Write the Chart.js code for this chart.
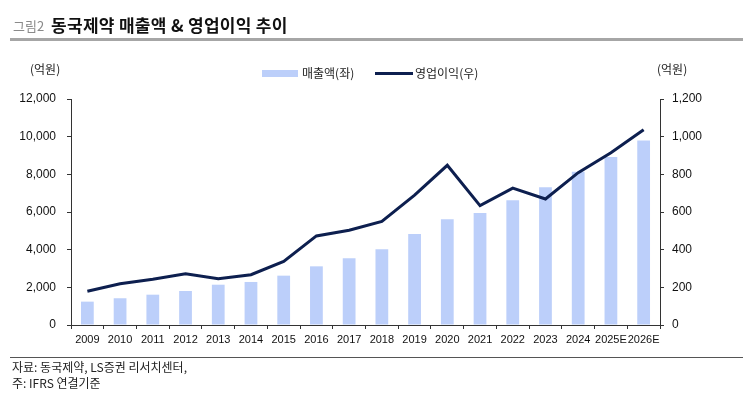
<!DOCTYPE html>
<html>
<head>
<meta charset="utf-8">
<script src="https://cdn.jsdelivr.net/npm/chart.js@4/dist/chart.umd.min.js"></script>
<style>
    body { margin: 0; background: #fff; font-family: 'Noto Sans CJK KR', sans-serif; }
    #wrap { position: relative; width: 743px; height: 399px; overflow: hidden; }
    #chart { position: absolute; left: 0; top: 0; }
    .abs { position: absolute; white-space: nowrap; line-height: 1; }
    .fig { left: 13px; top: 19px; font-size: 13px; color: #8a8a8a; }
    .title { left: 51px; top: 16px; font-size: 17px; font-weight: bold; color: #111; letter-spacing: 0.3px; }
    .rule { left: 10px; top: 38px; width: 733px; height: 3px; background: #a6a6a6; }
    .unit { font-size: 12px; color: #222; top: 63px; }
    .legend-text { font-size: 12px; color: #222; top: 67px; }
    .foot-rule { left: 10px; top: 357px; width: 733px; height: 1px; background: #555; }
    .foot { left: 12px; font-size: 12px; color: #222; }
</style>
</head>
<body>
<div id="wrap">
    <canvas id="chart" width="743" height="399"></canvas>
    <div class="abs fig">그림2</div>
    <div class="abs title">동국제약 매출액 &amp; 영업이익 추이</div>
    <div class="abs rule"></div>
    <div class="abs unit" style="left:30px">(억원)</div>
    <div class="abs unit" style="left:657px">(억원)</div>
    <div class="abs" style="left:262px; top:70px; width:36px; height:7px; background:#bccffa"></div>
    <div class="abs legend-text" style="left:302px">매출액(좌)</div>
    <div class="abs" style="left:375px; top:72px; width:38px; height:3px; background:#0d1f4f"></div>
    <div class="abs legend-text" style="left:415px">영업이익(우)</div>
    <div class="abs foot-rule"></div>
    <div class="abs foot" style="top:361px">자료: 동국제약, LS증권 리서치센터,</div>
    <div class="abs foot" style="top:377px">주: IFRS 연결기준</div>
</div>
<script>
const years = ['2009', '2010', '2011', '2012', '2013', '2014', '2015', '2016', '2017',
    '2018', '2019', '2020', '2021', '2022', '2023', '2024', '2025E', '2026E'];
const sales = [1240, 1420, 1610, 1805, 2140, 2285, 2620, 3115, 3540,
    4020, 4830, 5610, 5950, 6620, 7310, 8140, 8920, 9800];
const operatingProfit = [179, 219, 243, 272, 246, 267, 338, 473, 503,
    550, 690, 848, 634, 727, 669, 809, 915, 1037];
const leftTicks = [0, 2000, 4000, 6000, 8000, 10000, 12000];
const rightTicks = [0, 200, 400, 600, 800, 1000, 1200];

const xFont = { family: "'Liberation Sans', Arial, sans-serif", size: 11 };
const yFont = { family: "'Liberation Sans', Arial, sans-serif", size: 12 };
const axisColor = '#333';

new Chart(document.getElementById('chart'), {
    type: 'bar',
    data: {
        labels: years,
        datasets: [
            {
                type: 'line',
                label: '영업이익(우)',
                data: operatingProfit,
                yAxisID: 'yRight',
                borderColor: '#0d1f4f',
                borderWidth: 3,
                pointRadius: 0,
                tension: 0,
                order: 0
            },
            {
                label: '매출액(좌)',
                data: sales,
                yAxisID: 'yLeft',
                backgroundColor: '#bccffa',
                categoryPercentage: 1,
                barPercentage: 0.39,
                order: 1
            }
        ]
    },
    options: {
        responsive: false,
        animation: false,
        layout: { padding: { top: 99, left: 0, right: 0, bottom: 0 } },
        plugins: { legend: { display: false }, tooltip: { enabled: false } },
        scales: {
            x: {
                offset: true,
                grid: { offset: true, drawOnChartArea: false, tickLength: 4, color: axisColor },
                border: { color: axisColor },
                ticks: { font: xFont, color: '#111', padding: 4, maxRotation: 0, autoSkip: false },
                afterFit: s => { s.height = 74; }
            },
            yLeft: {
                position: 'left',
                min: 0,
                max: 12000,
                afterBuildTicks: s => { s.ticks = leftTicks.map(v => ({ value: v })); },
                grid: { drawOnChartArea: false, tickLength: 4, color: axisColor },
                border: { color: axisColor },
                ticks: {
                    font: yFont, color: '#111', padding: 11,
                    callback: v => v.toLocaleString('en-US')
                },
                afterFit: s => { s.width = 71; }
            },
            yRight: {
                position: 'right',
                min: 0,
                max: 1200,
                afterBuildTicks: s => { s.ticks = rightTicks.map(v => ({ value: v })); },
                grid: { drawOnChartArea: false, tickLength: 4, color: axisColor },
                border: { color: axisColor },
                ticks: {
                    font: yFont, color: '#111', padding: 8,
                    callback: v => v.toLocaleString('en-US')
                },
                afterFit: s => { s.width = 83; }
            }
        }
    }
});
</script>
</body>
</html>
